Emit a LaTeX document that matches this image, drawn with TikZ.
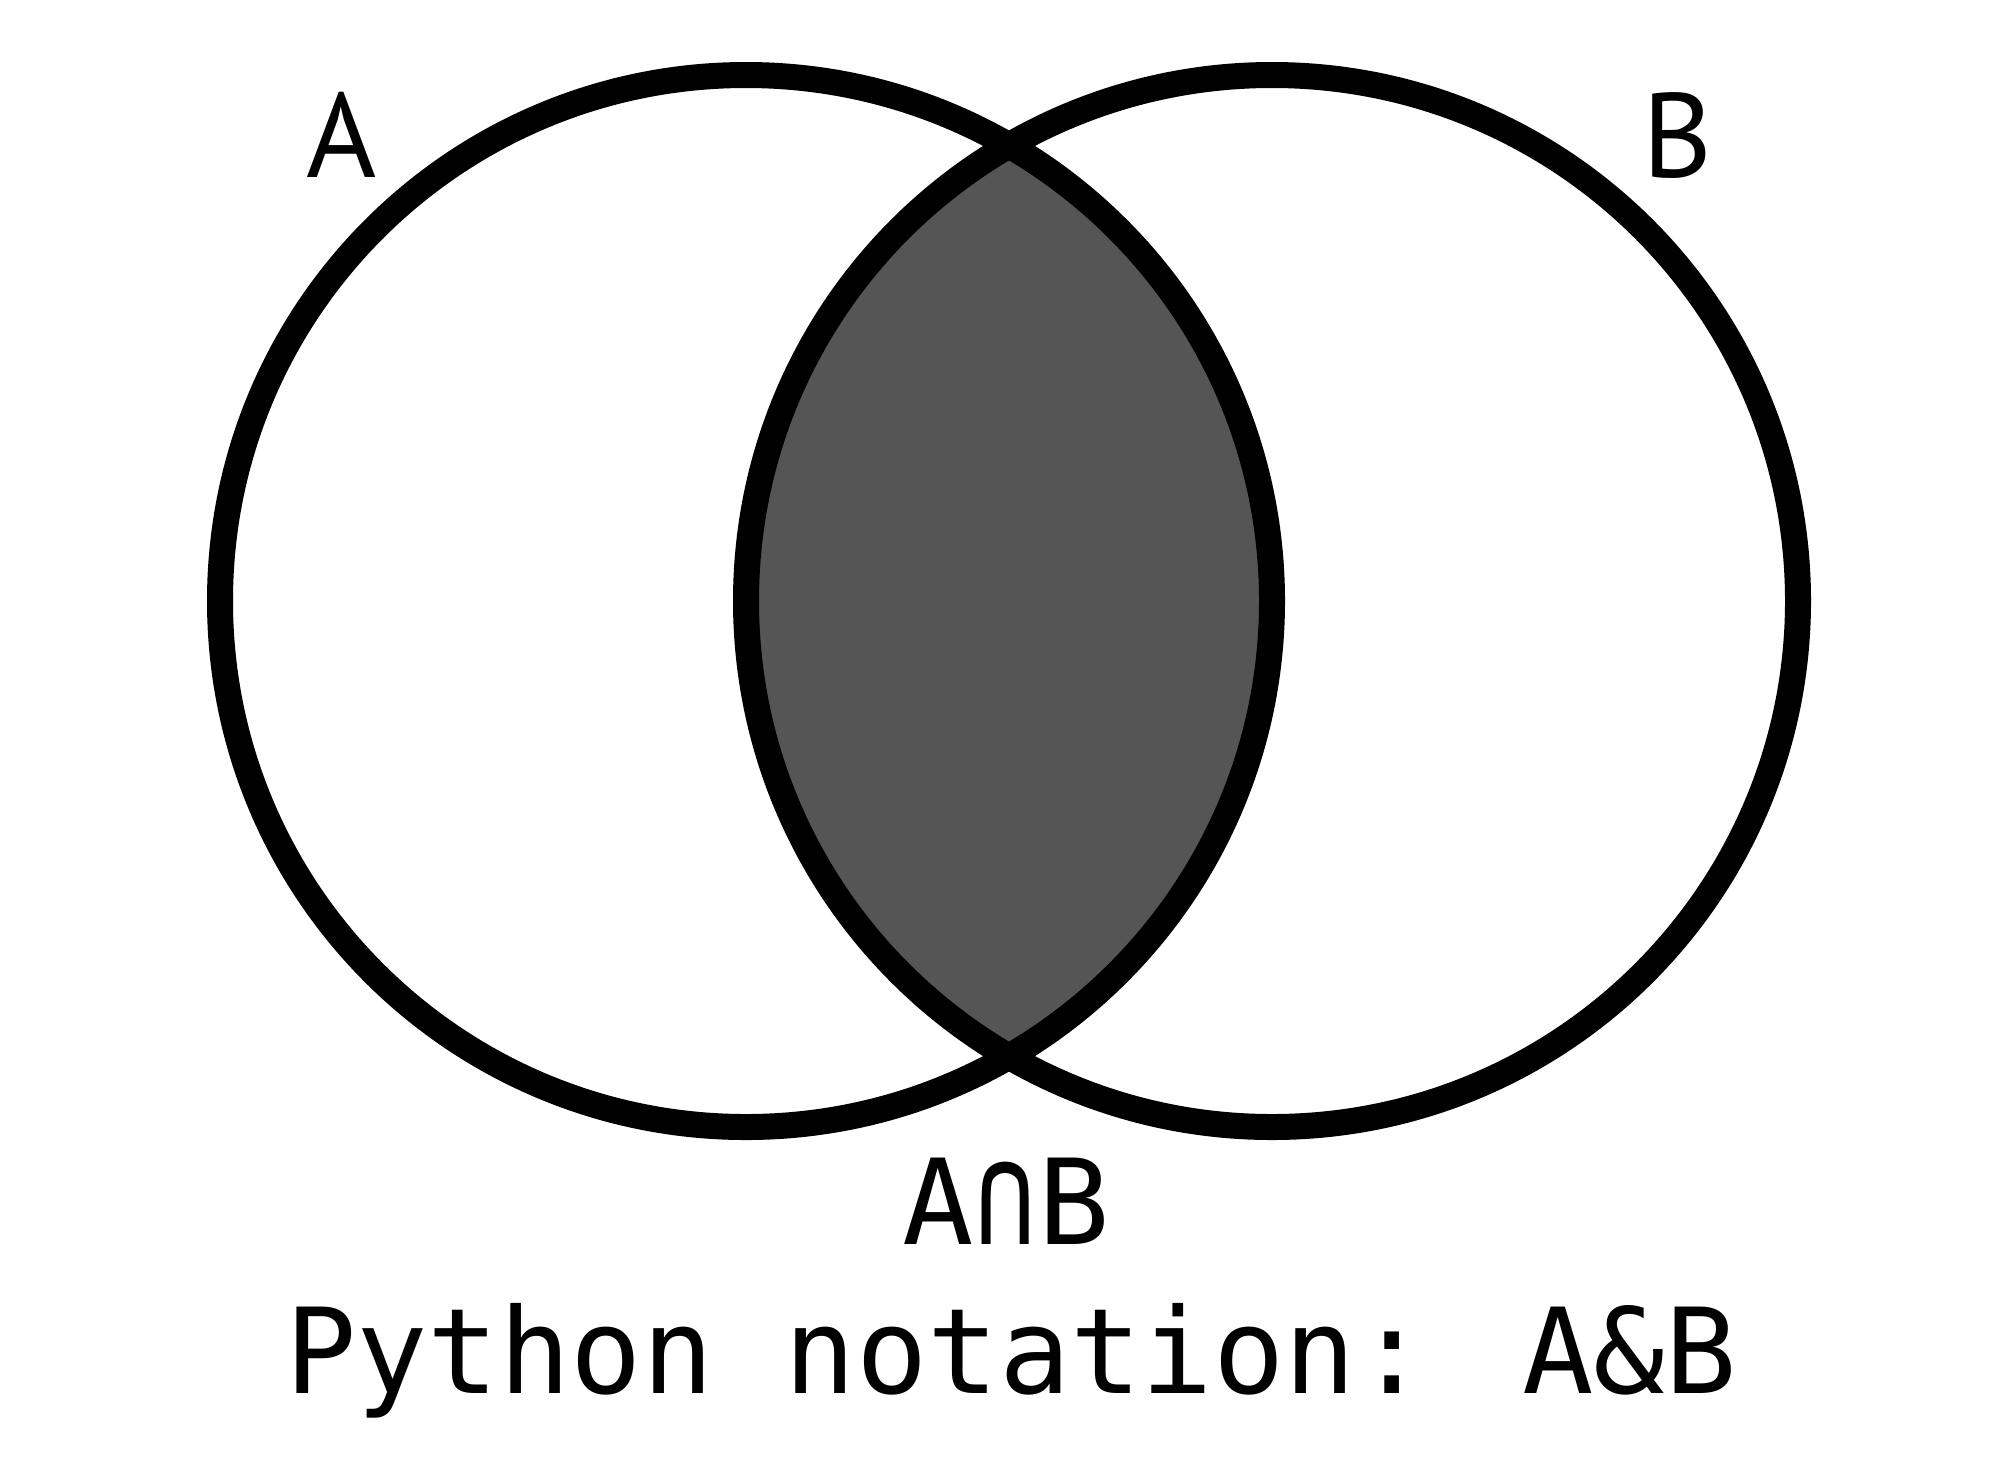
\documentclass[tikz,border=0pt]{standalone}
\usepackage{fontspec}
\usepackage{graphicx}
\newfontfamily\labelfont{PT Sans}
\newfontfamily\monofont{DejaVu Sans Mono}
\definecolor{lens}{RGB}{85,85,85}
\begin{document}
\begin{tikzpicture}[x=0.5pt,y=-0.5pt,
  ring/.style={draw=black,line width=13pt},
  setlabel/.style={font=\labelfont\fontsize{60pt}{72pt}\selectfont,anchor=base,inner sep=0pt},
  monolabel/.style={font=\monofont\fontsize{59.3pt}{72pt}\selectfont,anchor=base,inner sep=0pt}]
\useasboundingbox (0,0) rectangle (2000,1458);
\fill[white] (0,0) rectangle (2000,1458);
\coordinate (ca) at (746,601);
\coordinate (cb) at (1272,601);
\begin{scope}
  \clip (ca) circle [radius=263pt];
  \fill[lens] (cb) circle [radius=263pt];
\end{scope}
\draw[ring] (ca) circle [radius=263pt];
\draw[ring] (cb) circle [radius=263pt];
\node[setlabel] (la) at (342,177) {A};
\node[setlabel] (lb) at (1678,177) {B};
\node[monolabel] (lab) at (1006,1244) {A\scalebox{0.9}[1.2]{∩}B};
\node[monolabel] (py) at (1011,1393) {Python notation: A\&B};
\end{tikzpicture}
\end{document}
